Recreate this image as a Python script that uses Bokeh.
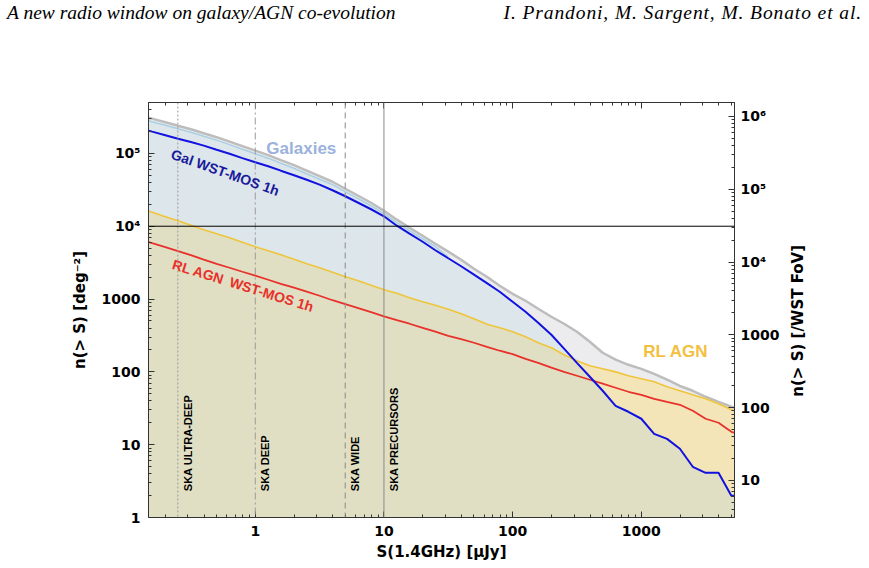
import numpy as np
from bokeh.plotting import figure
from bokeh.layouts import column, row
from bokeh.models import (Range1d, LogAxis, LogScale, FixedTicker, Span, Label, Div,
                          CustomJSTickFormatter)
from bokeh.embed import file_html
from bokeh.resources import INLINE

# ---------------- data ----------------
flux_uJy = [0.126, 0.158, 0.2, 0.251, 0.316, 0.398, 0.501, 0.631, 0.794, 1.0,
            1.26, 1.58, 2.0, 2.51, 3.16, 3.98, 5.01, 6.31, 7.94, 10.0,
            12.6, 15.8, 20.0, 25.1, 31.6, 39.8, 50.1, 63.1, 79.4, 100.0,
            126, 158, 200, 251, 316, 398, 501, 631, 794, 1000,
            1259, 1585, 1995, 2512, 3162, 3981, 5012, 6310]

# total counts (galaxies + AGN), deg^-2
n_total = [3.32e5, 3.0e5, 2.68e5, 2.40e5, 2.15e5, 1.89e5, 1.67e5, 1.45e5, 1.26e5, 1.09e5,
           9.45e4, 8.07e4, 6.89e4, 5.79e4, 4.86e4, 4.08e4, 3.27e4, 2.62e4, 2.10e4, 1.63e4,
           1.23e4, 9530, 7410, 5750, 4470, 3470, 2610, 2020, 1520, 1180,
           948, 736, 571, 458, 356, 259, 183, 147, 125, 110,
           94, 78, 64, 55, 45.5, 38.8, 33.2, 29.2]

# galaxies (star-forming) counts
n_galaxies = [3.05e5, 2.72e5, 2.44e5, 2.18e5, 1.95e5, 1.72e5, 1.52e5, 1.32e5, 1.14e5, 9.9e4,
              8.6e4, 7.33e4, 6.26e4, 5.26e4, 4.42e4, 3.72e4, 2.98e4, 2.39e4, 1.91e4, 1.49e4,
              1.12e4, 8670, 6730, 5230, 3810, 2780, 1900, 1300, 889, 608,
              417, 285, 195, 133, 91.2, 62.4, 42.7, 29.2, 20.0, 13.7,
              9.35, 6.40, 4.38, 3.0, 2.05, 1.40, 0.96, 0.66]

# galaxies detectable with WST-MOS 1h
n_gal_wst = [2.22e5, 1.99e5, 1.78e5, 1.59e5, 1.43e5, 1.28e5, 1.12e5, 9.9e4, 8.6e4, 7.57e4,
             6.67e4, 5.79e4, 5.02e4, 4.35e4, 3.72e4, 3.12e4, 2.58e4, 2.10e4, 1.71e4, 1.37e4,
             1.016e4, 7890, 6120, 4680, 3630, 2820, 2160, 1650, 1260, 918,
             669, 472, 323, 208, 133, 85.7, 55, 34.2, 28.3, 22.7,
             14.1, 12.0, 8.79, 4.97, 4.11, 4.11, 1.99, 1.99]

# radio-loud AGN counts
n_rlagn = [1.77e4, 1.56e4, 1.35e4, 1.19e4, 1.03e4, 8950, 7890, 6950, 6030, 5230,
           4610, 4060, 3520, 3050, 2690, 2330, 2020, 1780, 1550, 1340,
           1200, 1040, 918, 822, 724, 628, 536, 451, 403, 356,
           303, 251, 214, 172, 142, 121, 110, 100, 88.4, 80.4,
           73.1, 62.4, 55, 48.4, 42.7, 36.5, 30.2, 26.6]

# radio-loud AGN detectable with WST-MOS 1h
n_rlagn_wst = [6630, 5840, 5150, 4540, 4000, 3470, 3050, 2690, 2370, 2090,
               1840, 1620, 1430, 1260, 1110, 963, 849, 748, 659, 580,
               512, 458, 403, 356, 313, 281, 251, 221, 195, 175,
               151, 133, 114, 100, 88.4, 77.9, 68.7, 60.5, 53.3, 48.4,
               42.7, 38.8, 35.3, 29.2, 22.7, 20.0, 15.0, 13.3]

survey_names = ["SKA ULTRA-DEEP", "SKA DEEP", "SKA WIDE", "SKA PRECURSORS"]
survey_limits_uJy = [0.25, 1.0, 5.0, 10.0]
fiber_limit = 1e4          # horizontal reference line, deg^-2
wst_fov_deg2 = 3.1         # WST field of view

x_ticks = [1, 10, 100, 1000]
x_tick_labels = ["1", "10", "100", "1000"]
y_ticks = [1, 10, 100, 1000, 10000, 100000]
y_tick_labels = ["1", "10", "100", "1000", "10\u2074", "10\u2075"]
y2_ticks = [10, 100, 1000, 10000, 100000, 1000000]
y2_tick_labels = ["10", "100", "1000", "10\u2074", "10\u2075", "10\u2076"]

header_left = "A new radio window on galaxy/AGN co-evolution"
header_right = "I. Prandoni, M. Sargent, M. Bonato et al."
right_axis_title = "n(> S) [/WST FoV]"

# ---------------- styles / layout ----------------
C_GRAY_FILL = "#ececee"
C_BLUE_FILL = "#dde6ea"
C_YEL_FILL = "#f4e5b8"
C_OLIVE_FILL = "#e1dfc3"
C_GRAY_LINE = "#bdbdbd"
C_LBLUE_LINE = "#a9cfe3"
C_BLUE = "#1212e0"
C_RED = "#e8312b"
C_YEL = "#efc53a"
survey_dash = ["2 2", "7 3 2 3", "6 4", "solid"]
survey_color = ["#9a9a9a", "#9a9a9a", "#8a8a8a", "#8a8a8a"]

TOTAL_W, TOTAL_H = 869, 568
HEADER_H = 30
MAIN_W = 785
SIDE_W = TOTAL_W - MAIN_W
PLOT_H = TOTAL_H - HEADER_H

S = np.array(flux_uJy)
tot = np.array(n_total)
gal = np.array(n_galaxies)
galw = np.array(n_gal_wst)
agn = np.array(n_rlagn)
agnw = np.array(n_rlagn_wst)

blue_top = np.maximum(gal, galw)
olive_top = np.minimum(agn, blue_top)
gal_line = np.where(gal > galw, gal, np.nan)

p = figure(width=MAIN_W, height=PLOT_H, x_axis_type="log", y_axis_type="log",
           x_range=Range1d(0.148, 5300), y_range=Range1d(1, 5.0e5),
           output_backend="svg", toolbar_location=None,
           min_border_left=148, min_border_right=MAIN_W - 734, min_border_top=102 - HEADER_H,
           min_border_bottom=51, margin=(0, 0, 0, 0))
p.grid.visible = False
p.outline_line_color = "#333333"
p.background_fill_color = "white"
p.border_fill_color = "white"

floor = 0.1
p.varea(x=S, y1=floor, y2=tot, color=C_GRAY_FILL)
p.varea(x=S, y1=floor, y2=blue_top, color=C_BLUE_FILL)
p.varea(x=S, y1=floor, y2=agn, color=C_YEL_FILL)
p.varea(x=S, y1=floor, y2=olive_top, color=C_OLIVE_FILL)

for lim, name, dash, col in zip(survey_limits_uJy, survey_names, survey_dash, survey_color):
    p.add_layout(Span(location=lim, dimension="height", line_color=col,
                      line_width=1, line_dash=dash))
    p.add_layout(Label(x=lim, y=2.3, text=name, angle=np.pi / 2, x_offset=10,
                       text_baseline="middle", text_align="left",
                       text_font="Liberation Sans", text_font_style="bold",
                       text_font_size="11px", text_color="black"))

p.add_layout(Span(location=fiber_limit, dimension="width", line_color="black", line_width=1))

p.line(S, tot, line_color=C_GRAY_LINE, line_width=2.5)
p.line(S, gal_line, line_color=C_LBLUE_LINE, line_width=1.5)
p.line(S, agn, line_color=C_YEL, line_width=1.6)
p.line(S, agnw, line_color=C_RED, line_width=1.8)
p.line(S, galw, line_color=C_BLUE, line_width=2)

# in-plot labels
p.add_layout(Label(x=2.28, y=1.16e5, text="Galaxies", text_align="center", text_baseline="middle",
                   text_font="Liberation Sans", text_font_style="bold", text_font_size="17px",
                   text_color="#9cb2dc"))
p.add_layout(Label(x=1855, y=189, text="RL AGN", text_align="center", text_baseline="middle",
                   text_font="Liberation Sans", text_font_style="bold", text_font_size="17px",
                   text_color="#f3bf3f"))
p.add_layout(Label(x=0.585, y=5.48e4, text="Gal WST-MOS 1h", angle=-0.34, text_align="center",
                   text_baseline="middle", text_font="Liberation Sans", text_font_style="bold",
                   text_font_size="14px", text_color="#1a1a9c"))
p.add_layout(Label(x=0.807, y=1524, text="RL AGN\u2002WST-MOS 1h", angle=-0.30, text_align="center",
                   text_baseline="middle", text_font="Liberation Sans", text_font_style="bold",
                   text_font_size="14px", text_color=C_RED))


def minor(lo, hi):
    return [m * 10.0 ** k for k in range(lo, hi) for m in range(2, 10)]


def fmt(vals, labs):
    return CustomJSTickFormatter(args=dict(vals=vals, labs=labs), code="""
        for (let i = 0; i < vals.length; i++) {
            if (Math.abs(vals[i] - tick) <= 1e-6 * vals[i]) return labs[i];
        }
        return "";
    """)


def style_axis(ax, show_labels=True):
    ax.axis_line_color = "#333333"
    ax.major_tick_in = 6
    ax.major_tick_out = 0
    ax.minor_tick_in = 3
    ax.minor_tick_out = 0
    ax.major_tick_line_color = "#333333"
    ax.minor_tick_line_color = "#333333"
    ax.major_label_text_font = "DejaVu Sans"
    ax.major_label_text_font_style = "bold"
    ax.major_label_text_font_size = "14px"
    ax.major_label_text_color = "black"
    ax.axis_label_text_font = "DejaVu Sans"
    ax.axis_label_text_font_style = "bold"
    ax.axis_label_text_font_size = "15px"
    ax.axis_label_text_color = "black"
    if not show_labels:
        ax.major_label_text_alpha = 0


xax = p.xaxis[0]
xax.ticker = FixedTicker(ticks=x_ticks, minor_ticks=minor(-1, 4))
xax.formatter = fmt(x_ticks, x_tick_labels)
xax.axis_label = "S(1.4GHz) [\u03bcJy]"
style_axis(xax)
xax.major_label_standoff = 8
xax.axis_label_standoff = 4

yax = p.yaxis[0]
yax.ticker = FixedTicker(ticks=y_ticks, minor_ticks=minor(0, 6))
yax.formatter = fmt(y_ticks, y_tick_labels)
yax.axis_label = "n(> S) [deg\u207b\u00b2]"
style_axis(yax)
yax.major_label_standoff = 8
yax.axis_label_standoff = 10

top = LogAxis(ticker=FixedTicker(ticks=x_ticks, minor_ticks=minor(-1, 4)),
              formatter=fmt(x_ticks, x_tick_labels))
style_axis(top, show_labels=False)
p.add_layout(top, "above")

p.extra_y_ranges = {"fov": Range1d(1 * wst_fov_deg2, 5.0e5 * wst_fov_deg2)}
p.extra_y_scales = {"fov": LogScale()}
rax = LogAxis(y_range_name="fov", ticker=FixedTicker(ticks=y2_ticks, minor_ticks=minor(0, 7)),
              formatter=fmt(y2_ticks, y2_tick_labels))
style_axis(rax)
rax.major_label_standoff = 6
p.add_layout(rax, "right")

# narrow side panel carrying the right axis title (reads bottom-to-top)
side = figure(width=SIDE_W, height=PLOT_H, x_range=Range1d(0, SIDE_W), y_range=Range1d(0, PLOT_H),
              output_backend="svg", toolbar_location=None, min_border=0,
              x_axis_location=None, y_axis_location=None, margin=(0, 0, 0, 0))
side.grid.visible = False
side.outline_line_color = None
side.background_fill_color = "white"
side.border_fill_color = "white"
side.add_layout(Label(x=797 - MAIN_W, y=TOTAL_H - 313, text=right_axis_title, angle=np.pi / 2,
                      text_align="center", text_baseline="middle",
                      text_font="DejaVu Sans", text_font_style="bold", text_font_size="15px",
                      text_color="black"))

header = Div(text=(
    '<div style="position:relative;width:%dpx;height:%dpx;font-family:\'Liberation Serif\',serif;'
    'font-style:italic;font-size:19.5px;color:black;line-height:22px;">'
    '<span style="position:absolute;left:7px;top:2px;">%s</span>'
    '<span style="position:absolute;right:7px;top:2px;letter-spacing:0.9px;">%s</span></div>'
) % (TOTAL_W, HEADER_H, header_left, header_right), width=TOTAL_W, height=HEADER_H,
    margin=(0, 0, 0, 0))

layout = column(header, row(p, side, spacing=0, margin=(0, 0, 0, 0)),
                spacing=0, margin=(0, 0, 0, 0))
open("out.html", "w").write(file_html(layout, INLINE))
